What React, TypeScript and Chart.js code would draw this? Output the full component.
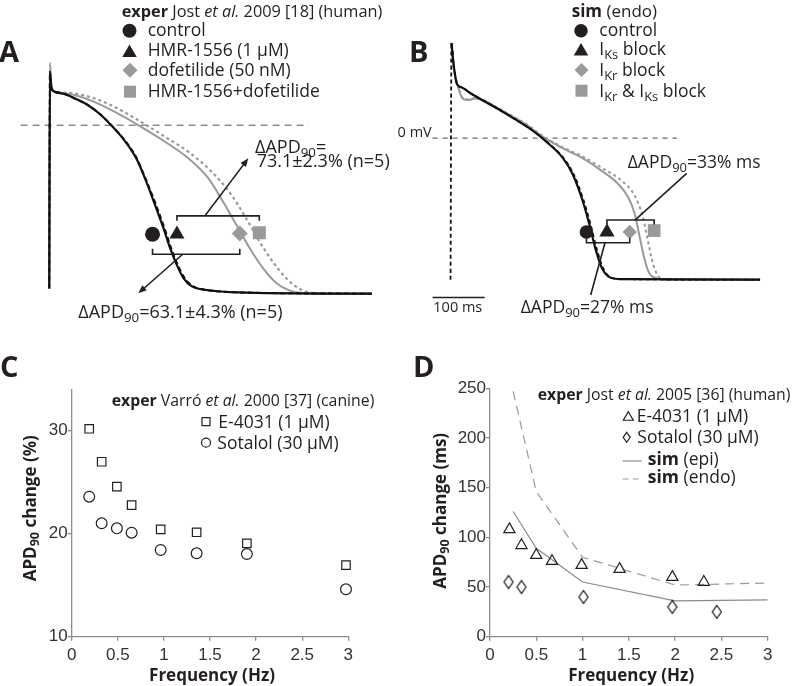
import React, { useEffect, useRef } from 'react';
import { Chart, registerables } from 'chart.js';

Chart.register(...registerables);

const FONT = '"Open Sans", "Noto Sans", sans-serif';
const TICK_FONT = '"Liberation Sans", Arial, sans-serif';
const INK = '#231f20';
const GRAY = '#9a9a9a';
const AXIS = '#8c8c8c';

// ---------- Panel A: experiment (Jost et al. 2009), time (ms) / membrane potential (mV)
const A_CONTROL_T = [0, 1.3, 4.7, 11.3, 31.3, 51.3, 78, 104.7, 124.7, 151.3, 178, 198, 218, 234.7, 248, 261.3, 274.7, 291.3, 318, 384.7, 660];
const A_CONTROL_V = [-82.4, 26.6, 18.5, 16.8, 15.7, 13.6, 10.3, 5.4, 0.5, -6.9, -16.7, -28.1, -41.2, -52.6, -62.4, -70.6, -77.1, -81.2, -83, -84.3, -85];
const A_HMR_T = [0, 1.3, 4.7, 11.3, 31.3, 51.3, 78, 104.7, 124.7, 151.3, 178, 198, 219, 236, 249.5, 263, 277, 294, 320, 385, 660];
const A_HMR_V = [-82.4, 27, 18.5, 16.8, 15.7, 13.6, 10.3, 5.4, 0.6, -6.6, -16.2, -27.5, -40.5, -52, -62, -70.5, -77, -81.2, -83, -84.3, -85];
const A_DOF_T = [0, 1.3, 4.7, 14.7, 51.3, 91.3, 138, 184.7, 238, 284.7, 324.7, 358, 384.7, 411.3, 438, 464.7, 491.3, 518, 660];
const A_DOF_V = [-82.4, 31.5, 19.3, 16.8, 15.2, 11.9, 6.2, -0.3, -8.5, -16.7, -26.5, -39.5, -51, -62.4, -72.2, -79.6, -83.3, -84.6, -85];
const A_BOTH_T = [4.7, 18, 51.3, 91.3, 138, 184.7, 238, 284.7, 331.3, 371.3, 404.7, 431.3, 458, 484.7, 511.3, 538, 660];
const A_BOTH_V = [17.7, 16.8, 16, 13.6, 8.7, 2.1, -6, -13.4, -23.2, -34.6, -47.7, -59.1, -69, -77.1, -82.4, -84.5, -85];
const A_ZERO_T = [-58.6, 531.4];
const A_ZERO_V = [0, 0];
// APD90 markers: control, HMR-1556, dofetilide, HMR-1556+dofetilide
const A_MARK_T = [211.4, 261.4, 390, 430];
const A_MARK_V = [-55, -55, -54.6, -54.3];

// ---------- Panel B: simulation (endo)
const B_CONTROL_T = [1.8, 6.2, 12.4, 21.8, 40.6, 65.6, 90.6, 121.9, 153.1, 184.4, 215.7, 234.4, 253.2, 265.7, 278.2, 290.7, 303.2, 322, 594];
const B_CONTROL_V = [57.1, 43.4, 32.4, 30.4, 26.5, 22.0, 17.6, 11.7, 5.5, -2.3, -12, -21.7, -37.3, -50.9, -66.5, -78.2, -83.2, -84.6, -85];
const B_IKS_T = [0, 1.8, 6.2, 12.4, 21.8, 40.6, 65.6, 90.6, 121.9, 153.1, 184.4, 215.7, 236, 255, 268, 281, 293.5, 306, 325, 594];
const B_IKS_V = [-85, 57.1, 43.4, 32.4, 30.4, 26.5, 22, 17.6, 11.7, 5.5, -2.1, -11.5, -21.5, -37, -51, -67, -78.5, -83.3, -84.6, -85];
const B_IKR_T = [1.8, 6.2, 15.6, 24, 34, 46.8, 60, 71.8, 103.1, 140.6, 178.1, 215.7, 253.2, 290.7, 322, 340.7, 353.2, 362.6, 372, 381.4, 393.9, 415.8, 594];
const B_IKR_V = [57.1, 42.5, 29.5, 23.5, 22.8, 23.8, 23, 21.3, 15.6, 9, 0.6, -6.2, -12, -19.8, -27.6, -35.4, -45.1, -58.7, -72.3, -81.1, -84, -85, -85];
const B_BOTH_T = [1.8, 6.2, 15.6, 24, 34, 46.8, 60, 71.8, 103.1, 140.6, 178.1, 215.7, 253.2, 290.7, 328.2, 353.2, 368.8, 378.2, 387.6, 397, 409.5, 594];
const B_BOTH_V = [57.1, 42.5, 30, 24, 23.2, 24, 23.3, 21.6, 16, 9.4, 1.2, -5.6, -11, -17.9, -25.6, -34.4, -47, -60.7, -74.3, -82.1, -84.6, -85];
const B_ZERO_T = [-34.5, 434.5];
const B_ZERO_V = [0, 0];
const B_BAR_T = [-34.5, 65.5]; // 100 ms scale bar
const B_BAR_V = [-95.7, -95.7];
const B_MARK_T = [260.8, 300.2, 343.9, 390.8];
const B_MARK_V = [-56.4, -56.4, -56.4, -55.5];

// ---------- Panel C: Varró et al. 2000 (canine)
const C_FREQ = [0.19, 0.325, 0.49, 0.65, 0.965, 1.355, 1.9, 2.975];
const C_E4031 = [30.17, 26.97, 24.55, 22.77, 20.42, 20.13, 19.06, 16.95];
const C_SOTALOL = [23.58, 21.0, 20.51, 20.09, 18.41, 18.09, 18.02, 14.6];
const C_Y_TICKS = [10, 20, 30];

// ---------- Panel D: Jost et al. 2005 (human) + simulations
const D_E4031_F = [0.21, 0.34, 0.5, 0.67, 0.99, 1.4, 1.97, 2.31];
const D_E4031 = [108, 92, 82, 76, 72, 68, 60, 55];
const D_SOT_F = [0.2, 0.34, 1.01, 1.97, 2.45];
const D_SOT = [55, 50, 40, 30, 25];
const D_EPI_F = [0.25, 0.5, 1, 2, 3];
const D_EPI = [126, 89, 55, 36, 37];
const D_ENDO_F = [0.25, 0.5, 1, 2, 3];
const D_ENDO = [247, 146, 80, 52, 54];

// ---------- drawing helpers
type Seg = { t: string; b?: boolean; i?: boolean; sub?: boolean };
function segFont(s: Seg, size: number) {
  const sz = s.sub ? size * 0.74 : size;
  return `${s.i ? 'italic ' : ''}${s.b ? 'bold ' : ''}${sz}px ${FONT}`;
}
function drawRich(ctx: CanvasRenderingContext2D, segs: Seg[], x: number, y: number, size: number, align: 'left' | 'center' | 'right' = 'left', color = INK) {
  ctx.save();
  ctx.fillStyle = color;
  ctx.textBaseline = 'alphabetic';
  ctx.textAlign = 'left';
  let w = 0;
  for (const s of segs) { ctx.font = segFont(s, size); w += ctx.measureText(s.t).width; }
  let cx = align === 'center' ? x - w / 2 : align === 'right' ? x - w : x;
  for (const s of segs) {
    ctx.font = segFont(s, size);
    ctx.fillText(s.t, cx, y + (s.sub ? size * 0.22 : 0));
    cx += ctx.measureText(s.t).width;
  }
  ctx.restore();
}
const P = (t: string): Seg => ({ t });
const B = (t: string): Seg => ({ t, b: true });
const I = (t: string): Seg => ({ t, i: true });
const S = (t: string): Seg => ({ t, sub: true });
const dapd = (rest: string): Seg[] => [P('ΔAPD'), S('90'), P(rest)];

function drawMark(ctx: CanvasRenderingContext2D, kind: string, x: number, y: number, w: number, h: number, fill: string | null, stroke: string | null, lw = 1.3) {
  ctx.save();
  ctx.beginPath();
  if (kind === 'circle') ctx.ellipse(x, y, w / 2, h / 2, 0, 0, Math.PI * 2);
  else if (kind === 'square') ctx.rect(x - w / 2, y - h / 2, w, h);
  else if (kind === 'triangle') { ctx.moveTo(x, y - h / 2); ctx.lineTo(x + w / 2, y + h / 2); ctx.lineTo(x - w / 2, y + h / 2); ctx.closePath(); }
  else if (kind === 'diamond') { ctx.moveTo(x, y - h / 2); ctx.lineTo(x + w / 2, y); ctx.lineTo(x, y + h / 2); ctx.lineTo(x - w / 2, y); ctx.closePath(); }
  if (fill) { ctx.fillStyle = fill; ctx.fill(); }
  if (stroke) { ctx.strokeStyle = stroke; ctx.lineWidth = lw; ctx.stroke(); }
  ctx.restore();
}
function drawBracket(ctx: CanvasRenderingContext2D, x1: number, x2: number, y: number, tick: number) {
  ctx.beginPath();
  ctx.moveTo(x1, y + tick); ctx.lineTo(x1, y); ctx.lineTo(x2, y); ctx.lineTo(x2, y + tick);
  ctx.stroke();
}
function drawLine(ctx: CanvasRenderingContext2D, x1: number, y1: number, x2: number, y2: number) {
  ctx.beginPath(); ctx.moveTo(x1, y1); ctx.lineTo(x2, y2); ctx.stroke();
}
function drawArrow(ctx: CanvasRenderingContext2D, x1: number, y1: number, x2: number, y2: number, head = 9) {
  const a = Math.atan2(y2 - y1, x2 - x1);
  drawLine(ctx, x1, y1, x2 - Math.cos(a) * head * 0.6, y2 - Math.sin(a) * head * 0.6);
  ctx.beginPath();
  ctx.moveTo(x2, y2);
  ctx.lineTo(x2 - head * Math.cos(a - 0.38), y2 - head * Math.sin(a - 0.38));
  ctx.lineTo(x2 - head * Math.cos(a + 0.38), y2 - head * Math.sin(a + 0.38));
  ctx.closePath();
  ctx.fill();
}
function makeDiamond(w: number, h: number) {
  const c = document.createElement('canvas');
  c.width = w + 3; c.height = h + 3;
  const g = c.getContext('2d')!;
  drawMark(g, 'diamond', c.width / 2, c.height / 2, w, h, null, '#111', 1.2);
  return c;
}

const pts = (xs: number[], ys: number[]) => xs.map((x, i) => ({ x, y: ys[i] }));
function lineDs(t: number[], v: number[], color: string, width: number, dash: number[] = []) {
  return {
    data: pts(t, v), borderColor: color, borderWidth: width, borderDash: dash,
    pointRadius: 0, fill: false, cubicInterpolationMode: 'monotone', showLine: true,
  } as any;
}

const baseOpts = (padding: any) => ({
  animation: false, responsive: false, devicePixelRatio: 1, events: [],
  layout: { padding },
  plugins: { legend: { display: false }, tooltip: { enabled: false } },
});

// ---------- Panel A
function configA(): any {
  const annot = {
    id: 'annotA',
    afterDraw(chart: any) {
      const ctx: CanvasRenderingContext2D = chart.ctx;
      const xs = chart.scales.x, ys = chart.scales.y;
      const mx = A_MARK_T.map((t) => xs.getPixelForValue(t));
      const my = ys.getPixelForValue(A_MARK_V[0]);
      ctx.save();
      ctx.strokeStyle = INK; ctx.fillStyle = INK; ctx.lineWidth = 1.6;
      drawBracket(ctx, mx[1], mx[3], my - 18.4, 5);
      drawBracket(ctx, mx[0], mx[2], my + 20, -5.5);
      drawArrow(ctx, 205, my - 18.4, 248.3, 158.3);
      drawArrow(ctx, 182.7, my + 20, 138.3, 293.3);
      ctx.restore();
      drawRich(ctx, [B('A')], -1, 61.7, 29);
      drawRich(ctx, [B('exper'), P(' Jost '), I('et al.'), P(' 2009 [18] (human)')], 121.7, 17, 16.3);
      drawMark(ctx, 'circle', 129.5, 30.7, 14, 14, INK, null);
      drawMark(ctx, 'triangle', 129.5, 50.7, 14.5, 12.5, INK, null);
      drawMark(ctx, 'diamond', 130, 70.3, 15, 15, GRAY, null);
      drawMark(ctx, 'square', 130, 91.7, 12, 12, GRAY, null);
      drawRich(ctx, [P('control')], 147.7, 36, 17.5);
      drawRich(ctx, [P('HMR-1556 (1 μM)')], 147.7, 56, 17.5);
      drawRich(ctx, [P('dofetilide (50 nM)')], 147.7, 76, 17.5);
      drawRich(ctx, [P('HMR-1556+dofetilide')], 147.7, 96.7, 17.5);
      drawRich(ctx, dapd('='), 255, 153.3, 18);
      drawRich(ctx, [P('73.1±2.3% (n=5)')], 256.7, 167.3, 18);
      drawRich(ctx, dapd('=63.1±4.3% (n=5)'), 78.3, 318.3, 18);
    },
  };
  return {
    type: 'line',
    data: {
      datasets: [
        {
          data: pts(A_MARK_T, A_MARK_V), showLine: false,
          pointStyle: ['circle', 'triangle', 'rectRot', 'rect'],
          pointRadius: [7.5, 8.7, 8, 9.2],
          pointBackgroundColor: [INK, INK, GRAY, GRAY], pointBorderWidth: 0,
        },
        lineDs(A_CONTROL_T, A_CONTROL_V, '#111', 2.2),
        lineDs(A_HMR_T, A_HMR_V, '#111', 2, [5, 3]),
        lineDs(A_BOTH_T, A_BOTH_V, GRAY, 2.2, [3, 3]),
        lineDs(A_DOF_T, A_DOF_V, GRAY, 2),
        lineDs(A_ZERO_T, A_ZERO_V, '#555', 1, [7, 5]),
      ],
    },
    options: {
      ...baseOpts({ left: 0, right: 400, top: 0, bottom: 356 }),
      scales: {
        x: { type: 'linear', display: false, min: -82, max: 718 },
        y: { type: 'linear', display: false, min: -103.3, max: 58.5 },
      },
    },
    plugins: [annot],
  };
}

// ---------- Panel B
function configB(): any {
  const annot = {
    id: 'annotB',
    afterDraw(chart: any) {
      const ctx: CanvasRenderingContext2D = chart.ctx;
      const xs = chart.scales.x, ys = chart.scales.y;
      const mx = B_MARK_T.map((t) => xs.getPixelForValue(t));
      const my = ys.getPixelForValue(B_MARK_V[0]);
      ctx.save();
      ctx.strokeStyle = INK; ctx.lineWidth = 1.6;
      drawBracket(ctx, mx[1], mx[3], my - 12, 4.5);
      drawBracket(ctx, mx[0], mx[2], my + 10.7, -5);
      drawLine(ctx, 635, my - 12, 686.7, 173.3);
      drawLine(ctx, 605, my + 10.7, 590.7, 295);
      ctx.restore();
      drawRich(ctx, [B('B')], 409, 61.7, 29);
      drawRich(ctx, [B('sim'), P(' (endo)')], 571.7, 16.7, 17);
      drawMark(ctx, 'circle', 581, 30.7, 13.5, 13.5, INK, null);
      drawMark(ctx, 'triangle', 581, 49.3, 14.5, 12.5, INK, null);
      drawMark(ctx, 'diamond', 581.5, 70, 14, 14, GRAY, null);
      drawMark(ctx, 'square', 581.5, 90.7, 12, 12, GRAY, null);
      drawRich(ctx, [P('control')], 599.3, 36, 17.5);
      drawRich(ctx, [P('I'), S('Ks'), P(' block')], 599.3, 55, 17.5);
      drawRich(ctx, [P('I'), S('Kr'), P(' block')], 599.3, 76, 17.5);
      drawRich(ctx, [P('I'), S('Kr'), P(' & I'), S('Ks'), P(' block')], 599.3, 96.7, 17.5);
      drawRich(ctx, [P('0 mV')], 431.7, 137, 14.5, 'right');
      drawRich(ctx, dapd('=33% ms'), 627.7, 168.3, 17.5);
      drawRich(ctx, dapd('=27% ms'), 520.7, 313.3, 17.5);
      drawRich(ctx, [P('100 ms')], 433.3, 312, 14.5);
    },
  };
  return {
    type: 'line',
    data: {
      datasets: [
        {
          data: pts(B_MARK_T, B_MARK_V), showLine: false,
          pointStyle: ['circle', 'triangle', 'rectRot', 'rect'],
          pointRadius: [6.8, 8.8, 7.2, 9],
          pointBackgroundColor: [INK, INK, GRAY, GRAY], pointBorderWidth: 0,
        },
        lineDs(B_CONTROL_T, B_CONTROL_V, '#111', 2.2),
        lineDs(B_IKS_T, B_IKS_V, '#111', 1.8, [4, 3]),
        lineDs(B_BOTH_T, B_BOTH_V, GRAY, 2, [3, 3]),
        lineDs(B_IKR_T, B_IKR_V, GRAY, 2),
        lineDs(B_ZERO_T, B_ZERO_V, '#444', 1, [5, 5]),
        lineDs(B_BAR_T, B_BAR_V, INK, 1.6),
      ],
    },
    options: {
      ...baseOpts({ left: 400, right: 0, top: 0, bottom: 356 }),
      scales: {
        x: { type: 'linear', display: false, min: -97, max: 653.4 },
        y: { type: 'linear', display: false, min: -115.2, max: 77.5 },
      },
    },
    plugins: [annot],
  };
}

const axisCommon = (afterFit: (s: any) => void, extra: any = {}) => ({
  type: 'linear',
  afterFit,
  border: { display: true, color: AXIS, width: 1.3 },
  grid: { display: true, drawOnChartArea: false, drawTicks: true, tickLength: 4, color: AXIS, lineWidth: 1.3 },
  ...extra,
});
const tickOpts = (padding: number, stepSize?: number) => ({
  stepSize, autoSkip: false, maxRotation: 0, padding, color: '#333',
  font: { family: TICK_FONT, size: 17 },
  callback: (v: any) => String(v),
});

// ---------- Panel C
function configC(): any {
  const annot = {
    id: 'annotC',
    afterDraw(chart: any) {
      const ctx: CanvasRenderingContext2D = chart.ctx;
      drawRich(ctx, [B('C')], 0, 376.7, 29);
      drawRich(ctx, [B('exper'), P(' Varró '), I('et al.'), P(' 2000 [37] (canine)')], 111.7, 406, 15.8);
      drawMark(ctx, 'square', 206, 421.7, 8, 8, null, INK, 1.2);
      drawMark(ctx, 'circle', 206, 442.7, 9, 9, null, INK, 1.2);
      drawRich(ctx, [P('E-4031 (1 μM)')], 218.3, 428.3, 17.5);
      drawRich(ctx, [P('Sotalol (30 μM)')], 217.3, 449.3, 17.5);
      drawRich(ctx, [B('Frequency (Hz)')], 212, 680.7, 17, 'center');
      ctx.save();
      ctx.translate(35.5, 508.3);
      ctx.rotate(-Math.PI / 2);
      drawRich(ctx, [B('APD'), { t: '90', b: true, sub: true }, B(' change (%)')], 0, 0, 17, 'center');
      ctx.restore();
    },
  };
  return {
    type: 'scatter',
    data: {
      datasets: [
        { data: pts(C_FREQ, C_E4031), clip: false, pointStyle: 'rect', pointRadius: 6, borderColor: INK, backgroundColor: 'rgba(0,0,0,0)', borderWidth: 1.2 },
        { data: pts(C_FREQ, C_SOTALOL), clip: false, pointStyle: 'circle', pointRadius: 5.4, borderColor: INK, backgroundColor: 'rgba(0,0,0,0)', borderWidth: 1.2 },
      ],
    },
    options: {
      ...baseOpts({ left: 0, right: 451.7, top: 389.3, bottom: 0 }),
      scales: {
        x: axisCommon((s) => { s.height = 49.3; }, { min: 0, max: 3, ticks: tickOpts(4, 0.5) }),
        y: axisCommon((s) => { s.width = 71.7; }, {
          min: 10, max: 34,
          afterBuildTicks: (s: any) => { s.ticks = C_Y_TICKS.map((value) => ({ value })); },
          ticks: tickOpts(0),
        }),
      },
    },
    plugins: [annot],
  };
}

// ---------- Panel D
function configD(): any {
  const diamond = makeDiamond(9, 13);
  const annot = {
    id: 'annotD',
    afterDraw(chart: any) {
      const ctx: CanvasRenderingContext2D = chart.ctx;
      drawRich(ctx, [B('D')], 413, 376.7, 29);
      drawRich(ctx, [B('exper'), P(' Jost '), I('et al.'), P(' 2005 [36] (human)')], 537.7, 400, 15.8);
      drawMark(ctx, 'triangle', 628.3, 416, 10, 8.5, null, INK, 1.2);
      drawMark(ctx, 'diamond', 626.7, 437.3, 7, 10, null, INK, 1.2);
      ctx.save();
      ctx.lineWidth = 1.2;
      ctx.strokeStyle = '#8a8a8a';
      drawLine(ctx, 622.7, 461, 641.7, 461);
      ctx.setLineDash([6, 4]);
      ctx.strokeStyle = GRAY;
      drawLine(ctx, 622.7, 479, 641.7, 479);
      ctx.restore();
      drawRich(ctx, [P('E-4031 (1 μM)')], 636.7, 421.7, 17.5);
      drawRich(ctx, [P('Sotalol (30 μM)')], 637.3, 443.3, 17.5);
      drawRich(ctx, [B('sim'), P(' (epi)')], 647.7, 465, 17.5);
      drawRich(ctx, [B('sim'), P(' (endo)')], 647.7, 483.3, 17.5);
      drawRich(ctx, [B('Frequency (Hz)')], 631.2, 680.7, 17, 'center');
      ctx.save();
      ctx.translate(445.5, 510.8);
      ctx.rotate(-Math.PI / 2);
      drawRich(ctx, [B('APD'), { t: '90', b: true, sub: true }, B(' change (ms)')], 0, 0, 17, 'center');
      ctx.restore();
    },
  };
  return {
    type: 'scatter',
    data: {
      datasets: [
        { data: pts(D_E4031_F, D_E4031), clip: false, pointStyle: 'triangle', pointRadius: 6.5, borderColor: INK, backgroundColor: 'rgba(0,0,0,0)', borderWidth: 1.2 },
        { data: pts(D_SOT_F, D_SOT), clip: false, pointStyle: diamond, pointRadius: 6 },
        { data: pts(D_EPI_F, D_EPI), showLine: true, pointRadius: 0, borderColor: '#8a8a8a', borderWidth: 1.2 },
        { data: pts(D_ENDO_F, D_ENDO), showLine: true, pointRadius: 0, borderColor: GRAY, borderWidth: 1.2, borderDash: [9, 6] },
      ],
    },
    options: {
      ...baseOpts({ left: 400, right: 32.3, top: 388.3, bottom: 0 }),
      scales: {
        x: axisCommon((s) => { s.height = 49.3; }, { min: 0, max: 3, ticks: tickOpts(4, 0.5) }),
        y: axisCommon((s) => { s.width = 90; }, { min: 0, max: 250, ticks: tickOpts(0, 50) }),
      },
    },
    plugins: [annot],
  };
}

export default function App() {
  const rA = useRef<HTMLCanvasElement>(null);
  const rB = useRef<HTMLCanvasElement>(null);
  const rC = useRef<HTMLCanvasElement>(null);
  const rD = useRef<HTMLCanvasElement>(null);
  useEffect(() => {
    const charts = [
      new Chart(rA.current!, configA()),
      new Chart(rB.current!, configB()),
      new Chart(rC.current!, configC()),
      new Chart(rD.current!, configD()),
    ];
    return () => charts.forEach((c) => c.destroy());
  }, []);
  const cs: React.CSSProperties = { position: 'absolute', left: 0, top: 0, width: 800, height: 686 };
  return (
    <div style={{ position: 'fixed', left: 0, top: 0, width: 800, height: 686, background: '#fff', overflow: 'hidden' }}>
      <canvas ref={rA} width={800} height={686} style={cs} />
      <canvas ref={rB} width={800} height={686} style={cs} />
      <canvas ref={rC} width={800} height={686} style={cs} />
      <canvas ref={rD} width={800} height={686} style={cs} />
    </div>
  );
}
